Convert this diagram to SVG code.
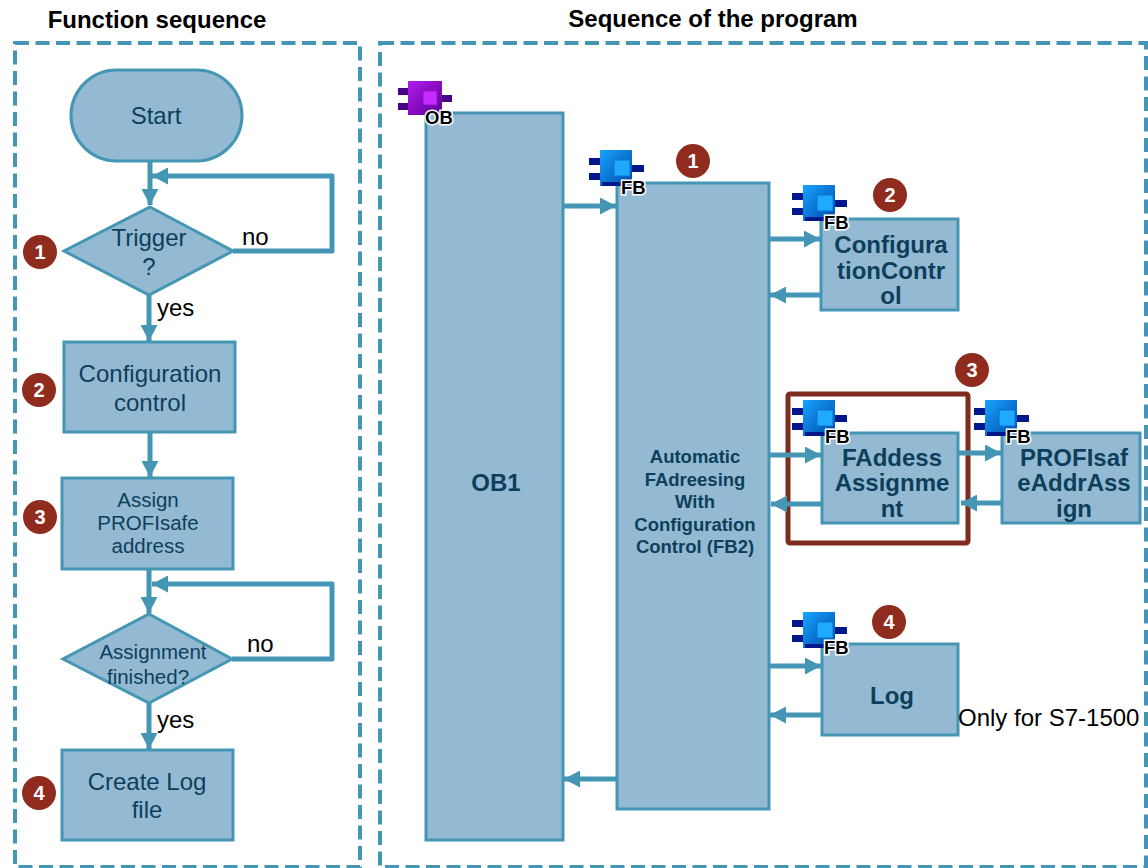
<svg xmlns="http://www.w3.org/2000/svg" width="1148" height="868" viewBox="0 0 1148 868">
<style>
text{font-family:"Liberation Sans",Arial,sans-serif}
.frame{fill:none;stroke:#4595b5;stroke-width:4;stroke-dasharray:14 6.5}
.box{fill:#93bad2;stroke:#4595b5;stroke-width:3}
.t{fill:#0d3f5c;font-size:24px;text-anchor:middle}
.s{font-size:20.5px}
.b{fill:#0d3f5c;font-weight:bold;text-anchor:middle;font-size:24px}
.m{fill:#0d3f5c;font-weight:bold;text-anchor:middle;font-size:18.5px}
.l{fill:#000;font-size:24px}
.h{fill:#000;font-weight:bold;font-size:24px;text-anchor:middle}
.c{fill:none;stroke:#4595b5;stroke-width:5;stroke-linejoin:round}
.badge circle{fill:#8f2c1d}
.badge text{fill:#fff;font-weight:bold;font-size:20px;text-anchor:middle}
.icon text{fill:#000;stroke:#fff;stroke-width:3px;paint-order:stroke;font-weight:bold;font-size:18.5px}
</style>
<defs>
<linearGradient id="gf" x1="0" y1="0" x2="1" y2="1"><stop offset="0" stop-color="#17a4ff"/><stop offset="1" stop-color="#0049a8"/></linearGradient>
<linearGradient id="go" x1="0" y1="0" x2="1" y2="1"><stop offset="0" stop-color="#b41af0"/><stop offset="1" stop-color="#5a0090"/></linearGradient>
<marker id="a" markerUnits="userSpaceOnUse" markerWidth="17" markerHeight="17" refX="16" refY="8.5" orient="auto"><path d="M0 0L16 8.5L0 17Z" fill="#4595b5"/></marker>
<g id="fb"><path d="M-11 8h12v7h-12zM-11 23h12v7h-12zM30 15h14v7h-14z" fill="#00188c"/><rect width="32" height="36" fill="url(#gf)"/><rect y="32" x="2" width="30" height="4" fill="#00188c"/><rect x="14" y="10" width="16" height="16" fill="#20aaff" stroke="#0a70d0"/></g>
<g id="ob"><path d="M-10 7h12v7h-12zM-10 22h12v7h-12zM32 14h12v7h-12z" fill="#4a0082"/><rect width="34" height="34" fill="url(#go)"/><rect x="15" y="10" width="14" height="14" fill="#c62cff" stroke="#9010d0"/></g>
</defs>
<rect width="1148" height="868" fill="#fff"/>
<g id="headers"><text class="h" x="157" y="28">Function sequence</text><text class="h" x="713" y="27">Sequence of the program</text></g>
<rect id="frame-left" class="frame" x="15" y="43" width="345" height="824"/>
<rect id="frame-right" class="frame" x="380" y="43" width="766" height="824"/>
<rect id="highlight" x="788" y="394" width="180" height="149" rx="2" fill="none" stroke="#7f2c1f" stroke-width="5"/>
<g id="connectors">
<path class="c" marker-end="url(#a)" d="M150 161V205"/>
<path class="c" marker-end="url(#a)" d="M233 251H332V176H152"/>
<path class="c" marker-end="url(#a)" d="M149 295V341"/>
<path class="c" marker-end="url(#a)" d="M150 432V477"/>
<path class="c" marker-end="url(#a)" d="M149 569V613"/>
<path class="c" marker-end="url(#a)" d="M232 659H332V584H152"/>
<path class="c" marker-end="url(#a)" d="M149 703V749"/>
<path class="c" marker-end="url(#a)" d="M563 206H616"/>
<path class="c" marker-end="url(#a)" d="M770 239H820"/>
<path class="c" marker-end="url(#a)" d="M821 295H770"/>
<path class="c" marker-end="url(#a)" d="M766 455H821"/>
<path class="c" marker-end="url(#a)" d="M822 504H771"/>
<path class="c" marker-end="url(#a)" d="M959 453H1001"/>
<path class="c" marker-end="url(#a)" d="M1002 503H961"/>
<path class="c" marker-end="url(#a)" d="M769 666H821"/>
<path class="c" marker-end="url(#a)" d="M822 715H770"/>
<path class="c" marker-end="url(#a)" d="M617 779H564"/>
</g>
<g id="start"><rect class="box" x="71" y="70" width="171" height="91" rx="45.5"/><text class="t" x="156" y="124">Start</text></g>
<g id="trigger"><path class="box" d="M150 207L233 251L149 295L64 251Z"/><text class="t" x="149" y="246">Trigger</text><text class="t" x="149" y="275">?</text></g>
<g id="config"><rect class="box" x="64" y="342" width="171" height="90"/><text class="t" x="150" y="382">Configuration</text><text class="t" x="150" y="411">control</text></g>
<g id="assign"><rect class="box" x="62" y="478" width="171" height="91"/><text class="t s" x="148" y="507">Assign</text><text class="t s" x="148" y="530">PROFIsafe</text><text class="t s" x="148" y="553">address</text></g>
<g id="finished"><path class="box" d="M149 614L232 659L149 703L63 659Z"/><text class="t s" x="153" y="659">Assignment</text><text class="t s" x="148" y="684">finished?</text></g>
<g id="createlog"><rect class="box" x="62" y="750" width="171" height="90"/><text class="t" x="147" y="790">Create Log</text><text class="t" x="147" y="818">file</text></g>
<text class="l" x="242" y="245">no</text><text class="l" x="157" y="316">yes</text><text class="l" x="247" y="652">no</text><text class="l" x="157" y="728">yes</text>
<g id="ob1"><rect class="box" x="426" y="113" width="137" height="727"/><text class="b" x="496" y="491">OB1</text></g>
<g id="fb2"><rect class="box" x="617" y="183" width="152" height="626"/><text class="m" x="695" y="463">Automatic</text><text class="m" x="695" y="486">FAdreesing</text><text class="m" x="695" y="508">With</text><text class="m" x="695" y="531">Configuration</text><text class="m" x="695" y="553">Control (FB2)</text></g>
<g id="cc"><rect class="box" x="821" y="219" width="137" height="91"/><text class="b" x="891" y="253">Configura</text><text class="b" x="891" y="279">tionContr</text><text class="b" x="891" y="304">ol</text></g>
<g id="fa"><rect class="box" x="822" y="433" width="136" height="90"/><text class="b" x="892" y="466">FAddess</text><text class="b" x="892" y="491">Assignme</text><text class="b" x="892" y="517">nt</text></g>
<g id="ps"><rect class="box" x="1002" y="433" width="138" height="90"/><text class="b" x="1074" y="466">PROFIsaf</text><text class="b" x="1074" y="491">eAddrAss</text><text class="b" x="1074" y="517">ign</text></g>
<g id="log"><rect class="box" x="822" y="644" width="136" height="91"/><text class="b" x="892" y="704">Log</text></g>
<text id="note" x="958" y="726" fill="#000" font-size="24">Only for S7-1500</text>
<g id="icon-ob" class="icon"><use href="#ob" x="408" y="81"/><text x="425" y="124">OB</text></g>
<g id="icon-fb2" class="icon"><use href="#fb" x="600" y="150"/><text x="621" y="194">FB</text></g>
<g id="icon-cc" class="icon"><use href="#fb" x="803" y="185"/><text x="824" y="229">FB</text></g>
<g id="icon-fa" class="icon"><use href="#fb" x="803" y="400"/><text x="825" y="443">FB</text></g>
<g id="icon-ps" class="icon"><use href="#fb" x="985" y="400"/><text x="1006" y="443">FB</text></g>
<g id="icon-log" class="icon"><use href="#fb" x="803" y="612"/><text x="824" y="654">FB</text></g>
<g id="badge-l1" class="badge"><circle cx="40" cy="252" r="17"/><text x="40" y="259">1</text></g>
<g id="badge-l2" class="badge"><circle cx="39" cy="390" r="17"/><text x="39" y="397">2</text></g>
<g id="badge-l3" class="badge"><circle cx="40" cy="517" r="17"/><text x="40" y="524">3</text></g>
<g id="badge-l4" class="badge"><circle cx="39" cy="793" r="17"/><text x="39" y="800">4</text></g>
<g id="badge-r1" class="badge"><circle cx="693" cy="161" r="17"/><text x="693" y="168">1</text></g>
<g id="badge-r2" class="badge"><circle cx="890" cy="195" r="17"/><text x="890" y="202">2</text></g>
<g id="badge-r3" class="badge"><circle cx="972" cy="370" r="17"/><text x="972" y="377">3</text></g>
<g id="badge-r4" class="badge"><circle cx="889" cy="622" r="17"/><text x="889" y="629">4</text></g>
</svg>
